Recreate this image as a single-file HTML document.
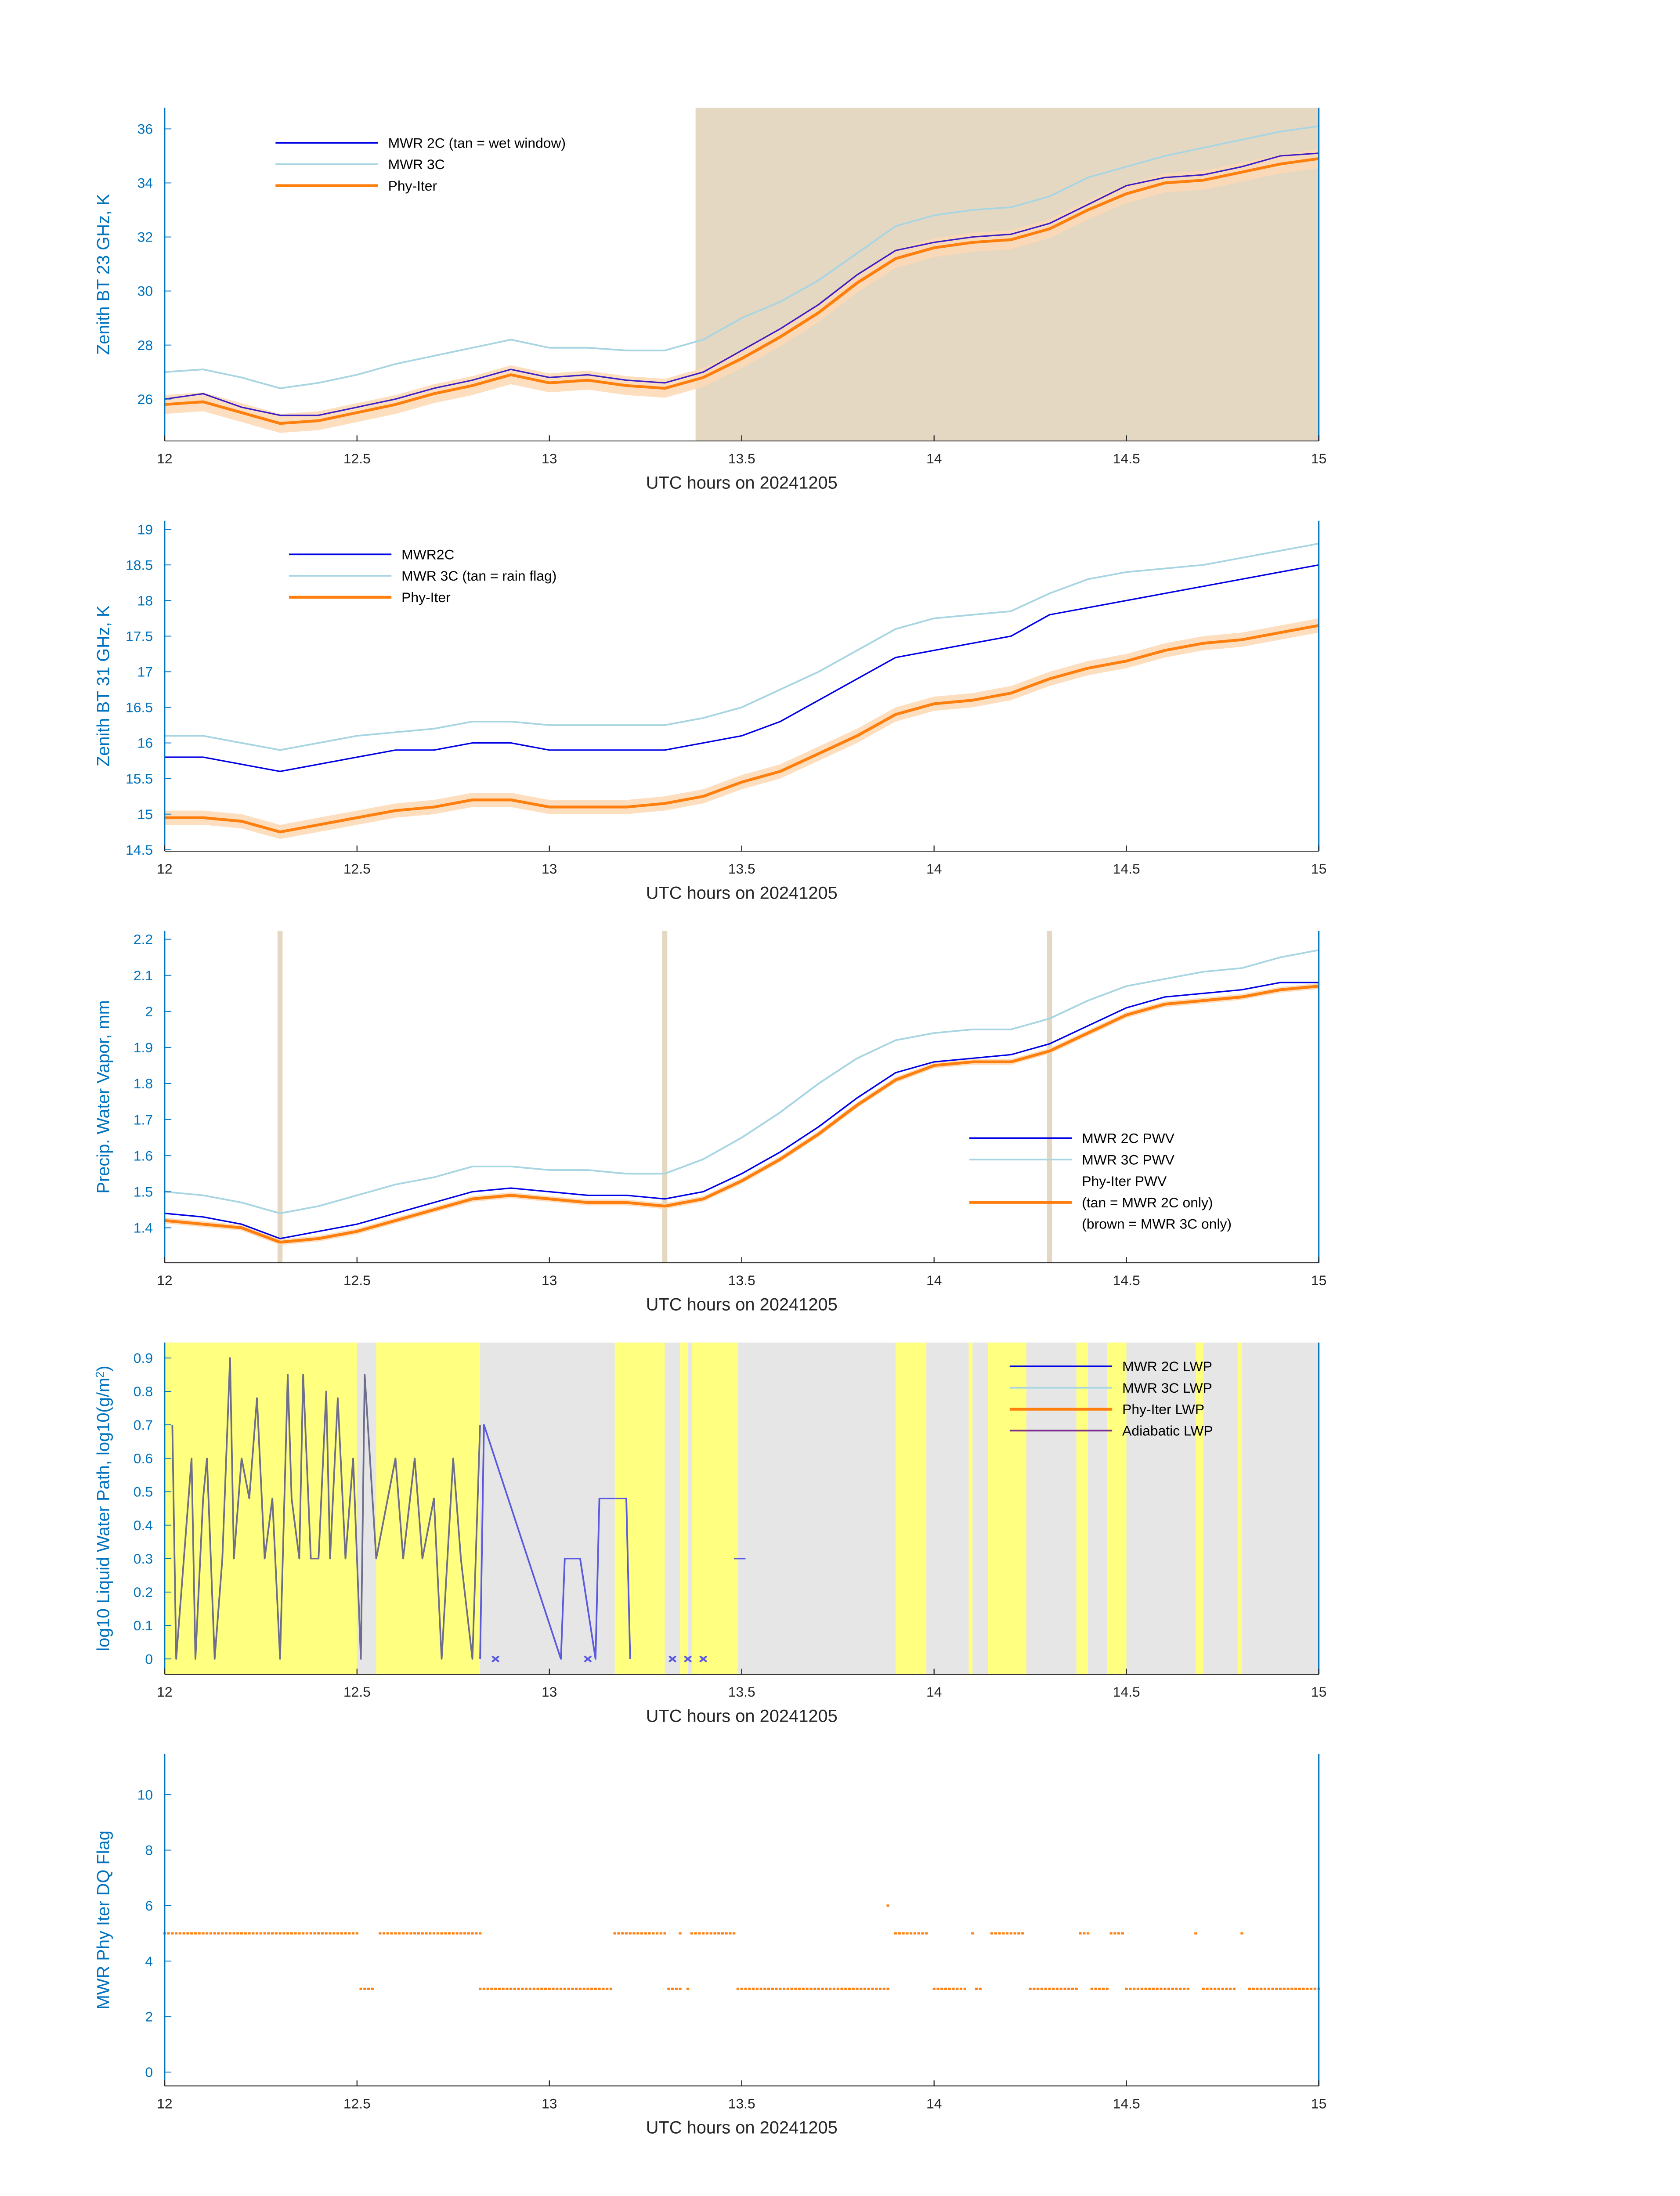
<!DOCTYPE html>
<html><head><meta charset="utf-8">
<style>
html,body{margin:0;padding:0;background:#fff;width:100%;height:100%;overflow:hidden;}
svg{display:block;position:fixed;left:0;top:0;width:100vw;height:100vh;font-family:"Liberation Sans","DejaVu Sans",sans-serif;}
</style></head>
<body>
<svg id="fig" xmlns="http://www.w3.org/2000/svg" viewBox="0 0 1000 1568.63" preserveAspectRatio="none"></svg>
<script>
const hours = [12.0,12.1,12.2,12.3,12.4,12.5,12.6,12.7,12.8,12.9,13.0,13.1,13.2,13.3,13.4,13.5,13.6,13.7,13.8,13.9,14.0,14.1,14.2,14.3,14.4,14.5,14.6,14.7,14.8,14.9,15.0];
// Panel 1: 23 GHz
const bt23_2c = [26.0,26.2,25.7,25.4,25.4,25.7,26.0,26.4,26.7,27.1,26.8,26.9,26.7,26.6,27.0,27.8,28.6,29.5,30.6,31.5,31.8,32.0,32.1,32.5,33.2,33.9,34.2,34.3,34.6,35.0,35.1];
const bt23_3c = [27.0,27.1,26.8,26.4,26.6,26.9,27.3,27.6,27.9,28.2,27.9,27.9,27.8,27.8,28.2,29.0,29.6,30.4,31.4,32.4,32.8,33.0,33.1,33.5,34.2,34.6,35.0,35.3,35.6,35.9,36.1];
const bt23_phy = [25.8,25.9,25.5,25.1,25.2,25.5,25.8,26.2,26.5,26.9,26.6,26.7,26.5,26.4,26.8,27.5,28.3,29.2,30.3,31.2,31.6,31.8,31.9,32.3,33.0,33.6,34.0,34.1,34.4,34.7,34.9];
// Panel 2: 31 GHz
const bt31_2c = [15.8,15.8,15.7,15.6,15.7,15.8,15.9,15.9,16.0,16.0,15.9,15.9,15.9,15.9,16.0,16.1,16.3,16.6,16.9,17.2,17.3,17.4,17.5,17.8,17.9,18.0,18.1,18.2,18.3,18.4,18.5];
const bt31_3c = [16.1,16.1,16.0,15.9,16.0,16.1,16.15,16.2,16.3,16.3,16.25,16.25,16.25,16.25,16.35,16.5,16.75,17.0,17.3,17.6,17.75,17.8,17.85,18.1,18.3,18.4,18.45,18.5,18.6,18.7,18.8];
const bt31_phy = [14.95,14.95,14.9,14.75,14.85,14.95,15.05,15.1,15.2,15.2,15.1,15.1,15.1,15.15,15.25,15.45,15.6,15.85,16.1,16.4,16.55,16.6,16.7,16.9,17.05,17.15,17.3,17.4,17.45,17.55,17.65];
// Panel 3: PWV
const pwv_2c = [1.44,1.43,1.41,1.37,1.39,1.41,1.44,1.47,1.50,1.51,1.50,1.49,1.49,1.48,1.50,1.55,1.61,1.68,1.76,1.83,1.86,1.87,1.88,1.91,1.96,2.01,2.04,2.05,2.06,2.08,2.08];
const pwv_3c = [1.50,1.49,1.47,1.44,1.46,1.49,1.52,1.54,1.57,1.57,1.56,1.56,1.55,1.55,1.59,1.65,1.72,1.80,1.87,1.92,1.94,1.95,1.95,1.98,2.03,2.07,2.09,2.11,2.12,2.15,2.17];
const pwv_phy = [1.42,1.41,1.40,1.36,1.37,1.39,1.42,1.45,1.48,1.49,1.48,1.47,1.47,1.46,1.48,1.53,1.59,1.66,1.74,1.81,1.85,1.86,1.86,1.89,1.94,1.99,2.02,2.03,2.04,2.06,2.07];
const pwvFlagHours = [12.3,13.3,14.3];
// Panel 4: LWP
const wetBands = [[12.0,12.5],[12.55,12.82],[13.17,13.3],[13.34,13.36],[13.37,13.49],[13.9,13.98],[14.09,14.1],[14.14,14.24],[14.37,14.4],[14.45,14.5],[14.68,14.7],[14.79,14.8]];
const lwpHours = [12.02,12.03,12.05,12.07,12.08,12.1,12.11,12.13,12.15,12.17,12.18,12.2,12.22,12.24,12.26,12.28,12.3,12.32,12.33,12.35,12.36,12.38,12.4,12.42,12.43,12.45,12.47,12.49,12.5,12.51,12.52,12.55,12.6,12.62,12.65,12.67,12.7,12.72,12.75,12.77,12.8,12.82];
const lwpValues = [0.7,0,0.3,0.6,0,0.48,0.6,0,0.3,0.9,0.3,0.6,0.48,0.78,0.3,0.48,0,0.85,0.48,0.3,0.85,0.3,0.3,0.8,0.3,0.78,0.3,0.6,0.3,0,0.85,0.3,0.6,0.3,0.6,0.3,0.48,0,0.6,0.3,0,0.7];
const lwpBlueHours = [12.82,12.83,13.03,13.04,13.08,13.12,13.13,13.2,13.21];
const lwpBlueValues = [0,0.7,0,0.3,0.3,0,0.48,0.48,0];
const lwpXmarks = [12.86,13.1,13.32,13.36,13.4];
// Panel 5: DQ flag segments [start,end,flag]
const dqSegments = [[12.0,12.5,5],[12.56,12.82,5],[13.17,13.3,5],[13.34,13.34,5],[13.37,13.48,5],[13.9,13.98,5],[14.1,14.1,5],[14.15,14.23,5],[14.38,14.4,5],[14.46,14.49,5],[14.68,14.68,5],[14.8,14.8,5],
 [12.51,12.54,3],[12.82,13.16,3],[13.31,13.34,3],[13.36,13.36,3],[13.49,13.88,3],[14.0,14.08,3],[14.11,14.12,3],[14.25,14.37,3],[14.41,14.45,3],[14.5,14.66,3],[14.7,14.78,3],[14.82,15.0,3],[13.88,13.88,6]];
const xTicks = [12,12.5,13,13.5,14,14.5,15];

const NS="http://www.w3.org/2000/svg";
const svg=document.getElementById('fig');
const VW=1000, VH=1568.63;
let R=(window.innerWidth/window.innerHeight)/(VW/VH);
if(!isFinite(R)||R<=0)R=1;
const SX=1/R;
function mk(tag,attrs,parent){const e=document.createElementNS(NS,tag);for(const k in attrs)e.setAttribute(k,attrs[k]);(parent||svg).appendChild(e);return e;}
function txt(x,y,attrs,parent){
  const a=Object.assign({x:0,y:0,transform:`translate(${x},${y}) scale(${SX},1)`},attrs);
  return mk('text',a,parent);
}
const X0=98,X1=785;
function xs(h){return X0+(h-12)/3*(X1-X0);}

function panel(name,top,bot,ymin,ymax,yticks,ylabel){
  const g=mk('g',{});
  
  
  const ys=v=>bot-(v-ymin)/(ymax-ymin)*(bot-top);
  return {g,ys,top,bot,yticks,ylabel};
}
function axes(p){
  const ax=mk('g',{},p.g);
  
  
  mk('line',{x1:X0,y1:p.top,x2:X0,y2:p.bot,stroke:'#0072BD','stroke-width':0.8},ax);
  mk('line',{x1:X1,y1:p.top,x2:X1,y2:p.bot,stroke:'#0072BD','stroke-width':0.8},ax);
  mk('line',{x1:X0,y1:p.bot,x2:X1,y2:p.bot,stroke:'#262626','stroke-width':0.6},ax);
  xTicks.forEach(t=>{
    mk('line',{x1:xs(t),y1:p.bot,x2:xs(t),y2:p.bot-4,stroke:'#262626','stroke-width':0.6},ax);
    const tx=txt(xs(t),p.bot+16,{'font-size':10,'text-anchor':'middle',fill:'#262626'},ax);
    tx.textContent=t;
    
    
  });
  p.yticks.forEach(t=>{
    const y=p.ys(t);
    mk('line',{x1:X0,y1:y,x2:X0+4,y2:y,stroke:'#0072BD','stroke-width':0.6},ax);
    const tx=txt(X0-7,y+3.5,{'font-size':10,'text-anchor':'end',fill:'#0072BD'},ax);
    tx.textContent=t;
    
    
  });
  const xl=txt((X0+X1)/2,p.bot+34,{'font-size':12.5,'text-anchor':'middle',fill:'#262626'},ax);
  xl.textContent='UTC hours on 20241205';
  
  
  const cy=(p.top+p.bot)/2;
  const yl=mk('text',{x:0,y:0,'font-size':12.5,'text-anchor':'middle',fill:'#0072BD',transform:`translate(65,${cy}) scale(${SX},1) rotate(-90)`},ax);
  yl.innerHTML=p.ylabel;
  
  
}
function line(p,hs,vs,color,w,name){
  const d=hs.map((h,i)=>(i?'L':'M')+xs(h).toFixed(2)+','+p.ys(vs[i]).toFixed(2)).join('');
  const e=mk('path',{d,fill:'none',stroke:color,'stroke-width':w,'stroke-linejoin':'round'},p.g);
  
  
}
function band(p,hs,vs,err,name){
  const up=hs.map((h,i)=>xs(h).toFixed(2)+','+p.ys(vs[i]+err).toFixed(2));
  const dn=hs.map((h,i)=>xs(h).toFixed(2)+','+p.ys(vs[i]-err).toFixed(2)).reverse();
  const e=mk('path',{d:'M'+up.join('L')+'L'+dn.join('L')+'Z',fill:'#FDD9B5',stroke:'none','fill-opacity':0.85},p.g);
  
  
}
function legend(p,x,y,items){
  const lg=mk('g',{},p.g);
  
  
  items.forEach((it,i)=>{
    const yy=y+i*15.3;
    if(it.c){
      const l=mk('line',{x1:x,y1:yy,x2:x+61,y2:yy,stroke:it.c,'stroke-width':it.w},lg);
      
      
    }
    const t=txt(x+67,yy+3.5,{'font-size':10,fill:'#000'},lg);
    t.textContent=it.t;
    
    
  });
}
const ORANGE='#FF7F0E', LBLUE='#A8D5E2', BLUE='#0000E6', TAN='#E5D8C2';

// Panel 1
{
 const p=panel('panel-23ghz',77,315,24.45,36.78,[26,28,30,32,34,36],'Zenith BT 23 GHz, K');
 const r=mk('rect',{x:xs(13.38),y:77,width:xs(15)-xs(13.38),height:238,fill:TAN},p.g);
 
 
 band(p,hours,bt23_phy,0.35,'phy-iter-uncertainty');
 line(p,hours,bt23_3c,LBLUE,1.2,'mwr-3c-line');
 line(p,hours,bt23_phy,ORANGE,2,'phy-iter-line');
 line(p,hours,bt23_2c,'#3A1FC8',1,'mwr-2c-line');
 axes(p);
 legend(p,164,102,[{c:BLUE,w:1.2,t:'MWR 2C (tan = wet window)'},{c:LBLUE,w:1.2,t:'MWR 3C'},{c:ORANGE,w:2,t:'Phy-Iter'}]);
}
// Panel 2
{
 const p=panel('panel-31ghz',372,608,14.48,19.12,[14.5,15,15.5,16,16.5,17,17.5,18,18.5,19],'Zenith BT 31 GHz, K');
 band(p,hours,bt31_phy,0.1,'phy-iter-uncertainty');
 line(p,hours,bt31_3c,LBLUE,1.2,'mwr-3c-line');
 line(p,hours,bt31_2c,BLUE,1,'mwr-2c-line');
 line(p,hours,bt31_phy,ORANGE,2,'phy-iter-line');
 axes(p);
 legend(p,172,396,[{c:BLUE,w:1.2,t:'MWR2C'},{c:LBLUE,w:1.2,t:'MWR 3C (tan = rain flag)'},{c:ORANGE,w:2,t:'Phy-Iter'}]);
}
// Panel 3
{
 const p=panel('panel-pwv',665,902,1.303,2.223,[1.4,1.5,1.6,1.7,1.8,1.9,2,2.1,2.2],'Precip. Water Vapor, mm');
 pwvFlagHours.forEach(h=>{
  const r=mk('rect',{x:xs(h)-1.5,y:665,width:3,height:237,fill:TAN},p.g);
  
  
 });
 band(p,hours,pwv_phy,0.008,'phy-iter-uncertainty');
 line(p,hours,pwv_3c,LBLUE,1.2,'mwr-3c-pwv-line');
 line(p,hours,pwv_2c,BLUE,1,'mwr-2c-pwv-line');
 line(p,hours,pwv_phy,ORANGE,2,'phy-iter-pwv-line');
 axes(p);
 legend(p,577,813,[{c:BLUE,w:1.2,t:'MWR 2C PWV'},{c:LBLUE,w:1.2,t:'MWR 3C PWV'},{t:'Phy-Iter PWV'},{c:ORANGE,w:2,t:'(tan = MWR 2C only)'},{t:'(brown = MWR 3C only)'}]);
}
// Panel 4
{
 const p=panel('panel-lwp',959,1196,-0.046,0.946,[0,0.1,0.2,0.3,0.4,0.5,0.6,0.7,0.8,0.9],'log10 Liquid Water Path, log10(g/m<tspan dy="-4" font-size="8">2</tspan><tspan dy="4">)</tspan>');
 const bg=mk('rect',{x:xs(12.5),y:959,width:xs(15)-xs(12.5),height:237,fill:'#E6E6E6'},p.g);
 
 
 wetBands.forEach(b=>{
  const r=mk('rect',{x:xs(b[0]),y:959,width:xs(b[1])-xs(b[0]),height:237,fill:'#FFFF80'},p.g);
  
  
 });
 line(p,lwpHours,lwpValues,'#6E6E8C',1,'lwp-line');
 line(p,lwpBlueHours,lwpBlueValues,'#5A5AE0',1,'mwr-2c-lwp-line');
 lwpXmarks.forEach(h=>{
  const x=xs(h),y=p.ys(0);
  const m=mk('path',{d:`M${x-2},${y-2}L${x+2},${y+2}M${x-2},${y+2}L${x+2},${y-2}`,stroke:'#5A5AE0','stroke-width':1.2},p.g);
  
  
 });
 const seg=mk('line',{x1:xs(13.48),y1:p.ys(0.3),x2:xs(13.51),y2:p.ys(0.3),stroke:'#5A5AE0','stroke-width':1},p.g);
 
 
 axes(p);
 legend(p,601,976,[{c:BLUE,w:1.2,t:'MWR 2C LWP'},{c:LBLUE,w:1.2,t:'MWR 3C LWP'},{c:ORANGE,w:2,t:'Phy-Iter LWP'},{c:'#7E2F8E',w:1.2,t:'Adiabatic LWP'}]);
}
// Panel 5
{
 const p=panel('panel-dq-flag',1253,1490,-0.5,11.46,[0,2,4,6,8,10],'MWR Phy Iter DQ Flag');
 dqSegments.forEach(s=>{
  for(let h=s[0];h<=s[1]+1e-6;h+=0.01){
   const c=mk('rect',{x:xs(h)-0.8,y:p.ys(s[2])-0.8,width:1.6,height:1.6,fill:ORANGE},p.g);
   
   
  }
 });
 axes(p);
}
</script>
</body></html>
